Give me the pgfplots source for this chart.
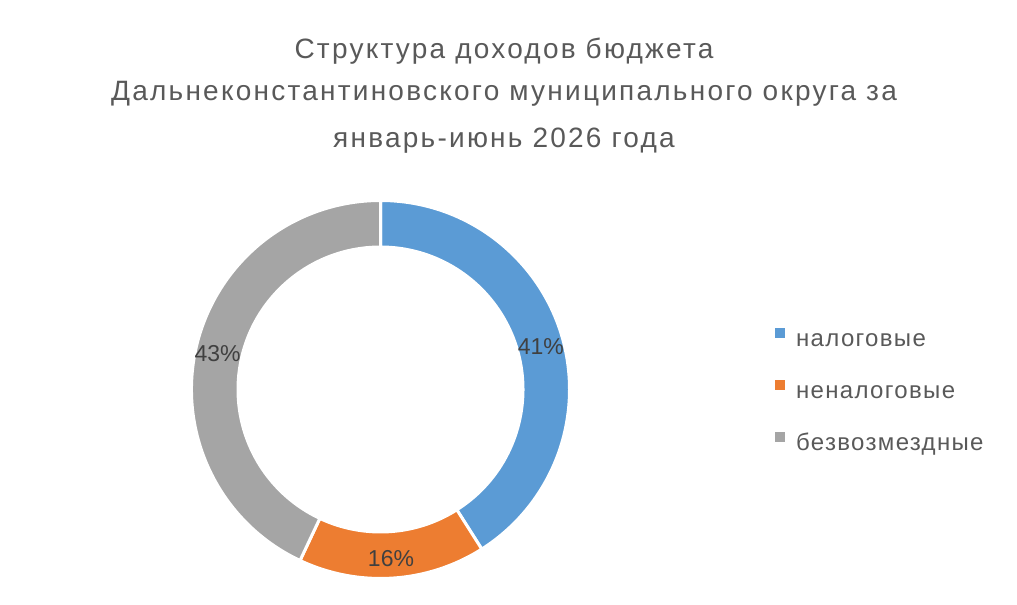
\documentclass[border=0pt]{standalone}
\usepackage{pgfplots}
\usepackage{pgfplotstable}
\pgfplotsset{compat=1.18}
\usepackage{fontspec}
\setmainfont{Liberation Sans}
\newfontfamily\titlefont[LetterSpace=8]{Liberation Sans}
\newfontfamily\legfont[LetterSpace=5.5]{Liberation Sans}
\definecolor{cblue}{HTML}{5B9BD5}
\definecolor{corange}{HTML}{ED7D31}
\definecolor{cgray}{HTML}{A5A5A5}
\definecolor{tgray}{HTML}{595959}
\definecolor{lgray}{HTML}{404040}

\pgfplotstableread{
idx value
0 41
1 16
2 43
}\donutdata

\begin{document}
\begin{tikzpicture}
\pgfplotstablegetelem{0}{value}\of\donutdata \let\vA\pgfplotsretval
\pgfplotstablegetelem{1}{value}\of\donutdata \let\vB\pgfplotsretval
\pgfplotstablegetelem{2}{value}\of\donutdata \let\vC\pgfplotsretval
\pgfmathsetmacro\tot{\vA+\vB+\vC}
\pgfmathsetmacro\aA{90}
\pgfmathsetmacro\aB{\aA-360*\vA/\tot}
\pgfmathsetmacro\aC{\aB-360*\vB/\tot}
\pgfmathsetmacro\aD{\aC-360*\vC/\tot}
\pgfmathsetmacro\mA{(\aA+\aB)/2}
\pgfmathsetmacro\mB{(\aB+\aC)/2}
\pgfmathsetmacro\mC{(\aC+\aD)/2}
\def\cx{380.5}
\def\cy{215.5}
\def\Ro{189}
\def\Ri{142.5}
\def\Rl{167}
\begin{axis}[
  x=1bp, y=1bp,
  xmin=0, xmax=1017, ymin=0, ymax=605,
  at={(0,0)}, anchor=south west,
  hide axis, clip=false,
  legend image code/.code={\fill[#1,draw=none] (0bp,2bp) rectangle (10bp,12bp); \path (21bp,2bp);},
  legend style={at={(axis cs:775,605-328)}, anchor=north west,
    draw=none, fill=none, inner sep=0pt, outer sep=0pt,
    font=\legfont\fontsize{24bp}{28bp}\selectfont\color{tgray},
    row sep=28bp,
    nodes={inner sep=0pt, text height=18bp, text depth=6bp}},
  legend cell align=left,
]
\addlegendimage{fill=cblue}
\addlegendentry{налоговые}
\addlegendimage{fill=corange}
\addlegendentry{неналоговые}
\addlegendimage{fill=cgray}
\addlegendentry{безвозмездные}

\filldraw[fill=cblue, draw=white, line width=3bp]
  (axis cs:{\cx+\Ro*cos(\aA)},{\cy+\Ro*sin(\aA)}) arc[start angle=\aA, end angle=\aB, radius=\Ro bp]
  -- (axis cs:{\cx+\Ri*cos(\aB)},{\cy+\Ri*sin(\aB)}) arc[start angle=\aB, end angle=\aA, radius=\Ri bp] -- cycle;
\filldraw[fill=corange, draw=white, line width=3bp]
  (axis cs:{\cx+\Ro*cos(\aB)},{\cy+\Ro*sin(\aB)}) arc[start angle=\aB, end angle=\aC, radius=\Ro bp]
  -- (axis cs:{\cx+\Ri*cos(\aC)},{\cy+\Ri*sin(\aC)}) arc[start angle=\aC, end angle=\aB, radius=\Ri bp] -- cycle;
\filldraw[fill=cgray, draw=white, line width=3bp]
  (axis cs:{\cx+\Ro*cos(\aC)},{\cy+\Ro*sin(\aC)}) arc[start angle=\aC, end angle=\aD, radius=\Ro bp]
  -- (axis cs:{\cx+\Ri*cos(\aD)},{\cy+\Ri*sin(\aD)}) arc[start angle=\aD, end angle=\aC, radius=\Ri bp] -- cycle;

\node[font=\fontsize{23bp}{26bp}\selectfont, text=lgray, inner sep=0pt]
  at (axis cs:{\cx+\Rl*cos(\mA)},{\cy+\Rl*sin(\mA)-4}) {\vA\%};
\node[font=\fontsize{23bp}{26bp}\selectfont, text=lgray, inner sep=0pt]
  at (axis cs:{\cx+\Rl*cos(\mB)},{\cy+\Rl*sin(\mB)-2}) {\vB\%};
\node[font=\fontsize{23bp}{26bp}\selectfont, text=lgray, inner sep=0pt]
  at (axis cs:{\cx+\Rl*cos(\mC)},{\cy+\Rl*sin(\mC)-1}) {\vC\%};

\node[font=\titlefont\fontsize{28bp}{32bp}\selectfont, text=tgray, anchor=base, inner sep=0pt]
  at (axis cs:504,605-59) {Структура доходов бюджета};
\node[font=\titlefont\fontsize{28bp}{32bp}\selectfont, text=tgray, anchor=base, inner sep=0pt]
  at (axis cs:504,605-101) {Дальнеконстантиновского муниципального округа за};
\node[font=\titlefont\fontsize{28bp}{32bp}\selectfont, text=tgray, anchor=base, inner sep=0pt]
  at (axis cs:504,605-148) {январь-июнь 2026 года};
\end{axis}
\pgfresetboundingbox
\path[use as bounding box] (0,0) rectangle (1017bp,605bp);
\end{tikzpicture}
\end{document}
